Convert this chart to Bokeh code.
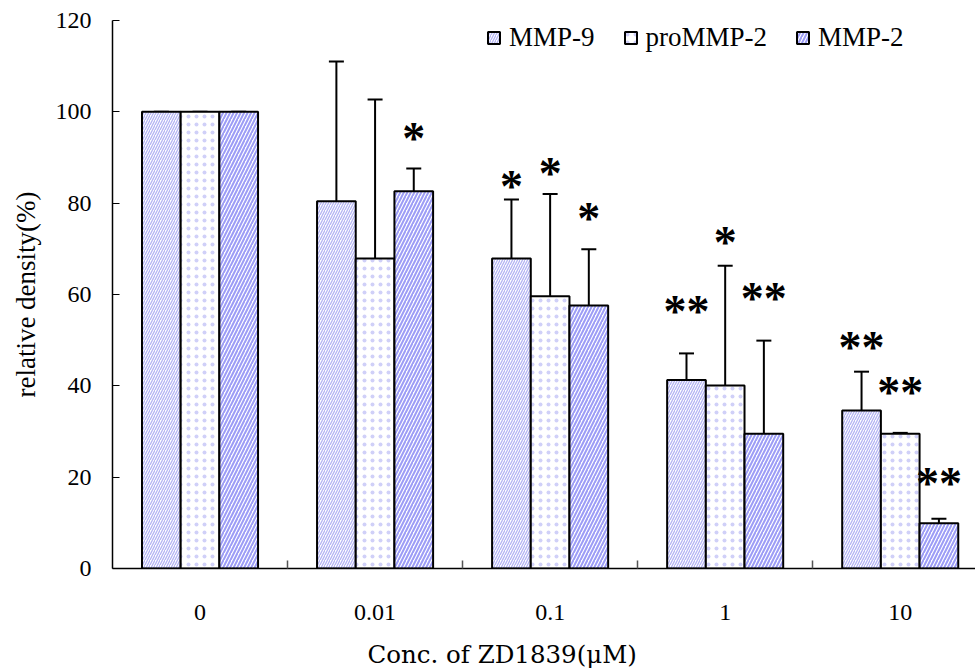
from bokeh.plotting import figure
from bokeh.models import (Range1d, FixedTicker, Whisker, TeeHead, ColumnDataSource,
                          Legend, LegendItem, Title)
from bokeh.core.properties import value
from bokeh.embed import file_html
from bokeh.resources import INLINE

# ---- data ----
conc = ["0", "0.01", "0.1", "1", "10"]
series = ["MMP-9", "proMMP-2", "MMP-2"]
mmp9 = [100, 80.4, 67.9, 41.3, 34.6]
mmp9_err = [0, 30.6, 12.9, 5.8, 8.5]
promm2 = [100, 67.9, 59.6, 40.1, 29.5]
promm2_err = [0, 34.8, 22.4, 26.2, 0.2]
mmp2 = [100, 82.6, 57.6, 29.5, 9.9]
mmp2_err = [0, 5.0, 12.3, 20.4, 1.0]
mmp9_sig = ["", "", "*", "**", "**"]
promm2_sig = ["", "", "*", "*", "**"]
mmp2_sig = ["", "*", "*", "**", "**"]
mmp9_sig_y = [0, 0, 84.7, 57.4, 49.5]
promm2_sig_y = [0, 0, 87.6, 72.5, 39.6]
mmp2_sig_y = [0, 95.3, 77.7, 60.2, 19.7]
y_ticks = [0, 20, 40, 60, 80, 100, 120]

SERIF = "Liberation Serif"
BW = 0.221
offsets = [-BW, 0.0, BW]

p = figure(frame_width=863, frame_height=548,
           x_range=Range1d(-0.5, 4.43), y_range=Range1d(0, 120),
           output_backend="svg", toolbar_location=None,
           min_border_left=112, min_border_right=0, min_border_top=20,
           min_border_bottom=10)
p.outline_line_color = None
p.xgrid.visible = False
p.ygrid.visible = False
p.background_fill_color = "white"
p.border_fill_color = "white"

styles = [
    dict(hatch_pattern="right_diagonal_line", hatch_scale=5, hatch_weight=1.3,
         hatch_color="#b4b4f4"),
    dict(hatch_pattern="dot", hatch_scale=8, hatch_weight=1.0,
         hatch_color="#d0d0f8"),
    dict(hatch_pattern="right_diagonal_line", hatch_scale=7, hatch_weight=2.0,
         hatch_color="#9c9cf6"),
]

vals = [mmp9, promm2, mmp2]
errs = [mmp9_err, promm2_err, mmp2_err]
sigs = [mmp9_sig, promm2_sig, mmp2_sig]
sigy = [mmp9_sig_y, promm2_sig_y, mmp2_sig_y]

renderers = []
for k in range(3):
    xs = [i + offsets[k] for i in range(len(conc))]
    src = ColumnDataSource(dict(
        x=xs, top=vals[k],
        upper=[v + e for v, e in zip(vals[k], errs[k])],
    ))
    r = p.vbar(x="x", top="top", bottom=0, width=BW, source=src,
               fill_color="white", line_color="black", line_width=2,
               **styles[k])
    renderers.append(r)
    w = Whisker(base="x", lower="top", upper="upper", source=src,
                line_color="black", line_width=2,
                upper_head=TeeHead(size=15, line_width=2, line_color="black"),
                lower_head=None)
    p.add_layout(w)

for k in range(3):
    xs, ys, ts = [], [], []
    for i in range(len(conc)):
        if sigs[k][i]:
            xs.append(i + offsets[k])
            ys.append(sigy[k][i])
            ts.append(sigs[k][i])
    ssrc = ColumnDataSource(dict(x=xs, y=ys, t=ts))
    p.text(x="x", y="y", text="t", source=ssrc, text_font=value(SERIF),
           text_font_size="46px", text_align="center", text_font_style="bold",
           text_baseline="alphabetic", y_offset=5, text_color="black")

# axes
xa = p.xaxis[0]
xa.ticker = FixedTicker(ticks=[0, 1, 2, 3, 4], minor_ticks=[0.5, 1.5, 2.5, 3.5])
xa.major_label_overrides = {i: c for i, c in enumerate(conc)}
xa.major_tick_in = 0
xa.major_tick_out = 0
xa.minor_tick_in = 8
xa.minor_tick_out = 0
xa.minor_tick_line_color = "#555555"
xa.minor_tick_line_width = 1.5
xa.axis_line_color = "black"
xa.axis_line_width = 1.5
xa.major_label_text_font = SERIF
xa.major_label_text_font_size = "24px"
xa.major_label_text_color = "black"
xa.major_label_standoff = 36

ya = p.yaxis[0]
ya.ticker = FixedTicker(ticks=y_ticks)
ya.minor_tick_line_color = None
ya.major_tick_in = 7
ya.major_tick_out = 0
ya.major_tick_line_color = "black"
ya.major_tick_line_width = 1.2
ya.axis_line_color = "black"
ya.axis_line_width = 1.5
ya.major_label_text_font = SERIF
ya.major_label_text_font_size = "24px"
ya.major_label_text_color = "black"
ya.major_label_standoff = 21
ya.axis_label = "relative density(%)"
ya.axis_label_text_font = SERIF
ya.axis_label_text_font_size = "27px"
ya.axis_label_text_font_style = "normal"
ya.axis_label_text_color = "black"
ya.axis_label_standoff = 12

t = Title(text="Conc. of ZD1839(μM)", align="left", offset=255,
          text_font="DejaVu Serif", text_font_size="24.5px",
          text_font_style="normal", text_color="black", standoff=30)
p.add_layout(t, "below")

legend = Legend(items=[LegendItem(label=s, renderers=[r]) for s, r in zip(series, renderers)],
                orientation="horizontal", location=(374, 515),
                border_line_color=None, background_fill_alpha=0,
                glyph_width=15, glyph_height=15, label_standoff=8, spacing=28,
                padding=0, margin=0,
                label_text_font=SERIF, label_text_font_size="27px",
                label_text_color="black")
p.add_layout(legend)

open("out.html", "w").write(file_html(p, INLINE))
